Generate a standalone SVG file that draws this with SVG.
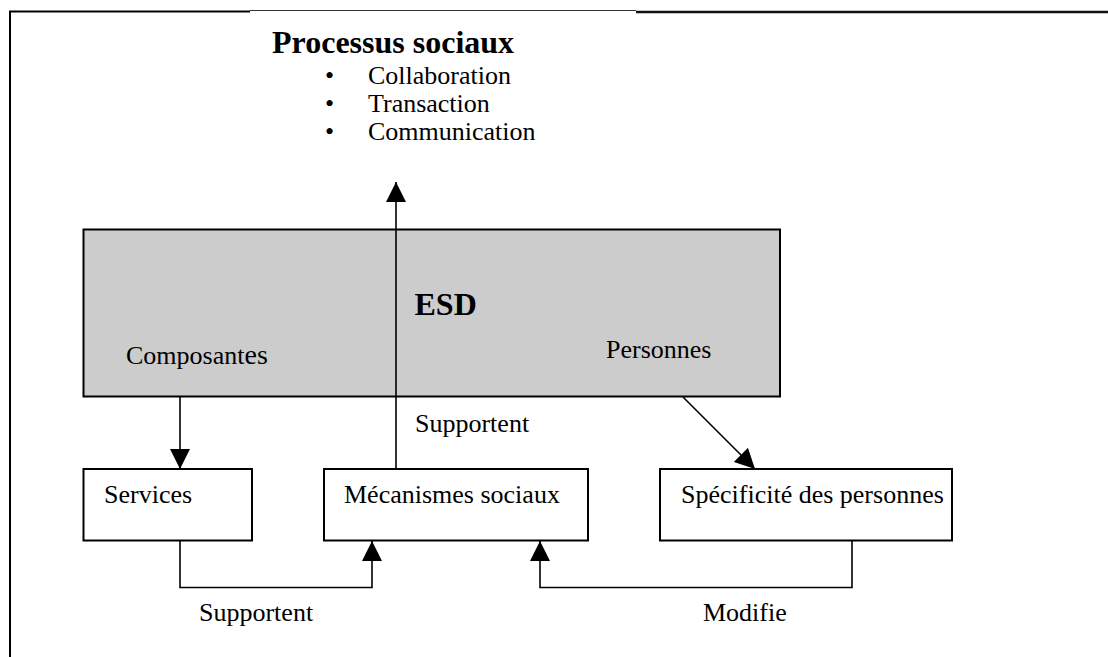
<svg xmlns="http://www.w3.org/2000/svg" width="1108" height="657" viewBox="0 0 1108 657">
<style>
text{font-family:"Liberation Serif","Times New Roman",serif;fill:#000}
.t{font-size:26px}
.b{font-size:32px;font-weight:bold}
.box{fill:#fff;stroke:#000;stroke-width:2}
.c{fill:none;stroke:#000;stroke-width:1.6}
</style>
<defs>
<marker id="ah" viewBox="0 0 20 20" refX="20" refY="10" markerWidth="20" markerHeight="20" markerUnits="userSpaceOnUse" orient="auto">
<path d="M0,0 L20,10 L0,20 Z" fill="#000"/>
</marker>
</defs>
<rect width="1108" height="657" fill="#fff"/>
<g id="frame">
<line x1="10" y1="11" x2="10" y2="657" stroke="#000" stroke-width="2"/>
<line x1="9" y1="11.5" x2="250" y2="11.5" stroke="#000" stroke-width="2"/>
<line x1="250" y1="10.5" x2="636" y2="10.5" stroke="#333" stroke-width="1"/>
<line x1="636" y1="12" x2="1108" y2="12" stroke="#111" stroke-width="2.4"/>
</g>
<g id="processus">
<text class="b" x="272" y="53">Processus sociaux</text>
<text class="t" x="325" y="84" font-size="30">•</text>
<text class="t" x="368" y="84">Collaboration</text>
<text class="t" x="325" y="112" font-size="30">•</text>
<text class="t" x="368" y="112">Transaction</text>
<text class="t" x="325" y="140" font-size="30">•</text>
<text class="t" x="368" y="140">Communication</text>
</g>
<g id="esd">
<rect x="83.5" y="229.5" width="696.5" height="167" fill="#cccccc" stroke="#000" stroke-width="2"/>
<text class="b" x="414.5" y="315">ESD</text>
<text class="t" x="126" y="364">Composant<tspan font-size="28">es</tspan></text>
<text class="t" x="606" y="358">Personnes</text>
</g>
<g id="services">
<rect class="box" x="83.5" y="469" width="168.5" height="71.5"/>
<text class="t" x="104" y="503">Services</text>
</g>
<g id="mecanismes">
<rect class="box" x="324" y="469" width="264" height="71.5"/>
<text class="t" x="344" y="503">Mécanismes sociaux</text>
</g>
<g id="specificite">
<rect class="box" x="660" y="469" width="292" height="71.5"/>
<text class="t" x="681" y="503">Spécificité des personnes</text>
</g>
<g id="connectors">
<line class="c" x1="180" y1="397" x2="180" y2="469" marker-end="url(#ah)"/>
<line class="c" x1="396" y1="469" x2="396" y2="182" marker-end="url(#ah)"/>
<line class="c" x1="683" y1="397" x2="755" y2="469" marker-end="url(#ah)"/>
<polyline class="c" points="180,540.5 180,587.5 372,587.5 372,541" marker-end="url(#ah)"/>
<polyline class="c" points="852,540.5 852,587.5 540,587.5 540,541" marker-end="url(#ah)"/>
<text class="t" x="415" y="432">Supportent</text>
<text class="t" x="199" y="621">Supportent</text>
<text class="t" x="703" y="621">Modifie</text>
</g>
</svg>
